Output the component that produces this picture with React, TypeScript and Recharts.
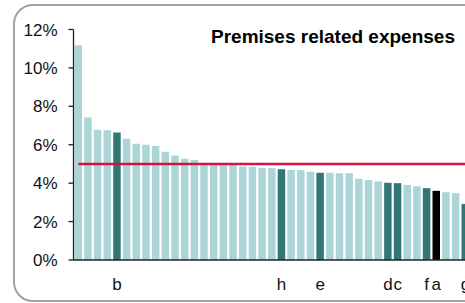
import { ComposedChart, Bar, Line, XAxis, YAxis, Cell } from "recharts"

// x-axis labels (only the highlighted institutions are named)
const labels = [
  "", "", "", "", "b", "", "", "", "", "",
  "", "", "", "", "", "", "", "", "", "",
  "", "h", "", "", "", "e", "", "", "", "",
  "", "", "d", "c", "", "", "f", "a", "", "",
  "g",
]

// premises related expenses, %
const expenses = [
  11.18, 7.42, 6.78, 6.75, 6.64, 6.31, 6.05, 6.0, 5.93, 5.63,
  5.44, 5.27, 5.2, 5.05, 5.02, 5.0, 4.98, 4.87, 4.85, 4.8,
  4.78, 4.73, 4.69, 4.68, 4.59, 4.54, 4.54, 4.52, 4.52, 4.23,
  4.16, 4.09, 4.02, 4.0, 3.91, 3.84, 3.74, 3.6, 3.53, 3.48,
  2.92,
]

// average line
const average = 5

const yTicks = [0, 2, 4, 6, 8, 10, 12]

const COLORS = {
  base: "#acd5d8",
  peer: "#2f7876",
  self: "#000000",
  avg: "#d21443",
}

const FONT = '"Liberation Sans", Arial, sans-serif'

const data = expenses.map((v, i) => ({ label: labels[i], value: v, avg: average }))

const barColor = (label: string) => {
  if (label === "a") return COLORS.self
  if (label !== "") return COLORS.peer
  return COLORS.base
}

export default function App() {
  return (
    <div
      style={{
        position: "fixed",
        left: 0,
        top: 0,
        width: 465,
        height: 303,
        overflow: "hidden",
        background: "#fff",
        fontFamily: FONT,
      }}
    >
      {/* rounded frame, runs off the right edge */}
      <div
        style={{
          position: "absolute",
          left: 13,
          top: 4,
          width: 600,
          height: 294,
          border: "2px solid #a2a2a2",
          borderRadius: 20,
        }}
      />
      <div
        style={{
          position: "absolute",
          left: 211,
          top: 27,
          fontSize: 19,
          lineHeight: "19px",
          fontWeight: "bold",
          color: "#000",
          whiteSpace: "nowrap",
        }}
      >
        Premises related expenses
      </div>
      <div style={{ position: "absolute", left: 0, top: 0 }}>
        <ComposedChart
          width={480}
          height={303}
          data={data}
          margin={{ top: 29.5, right: 9.8, left: 0, bottom: 0 }}
          barSize={7.5}
        >
          <XAxis
            dataKey="label"
            interval={0}
            tickLine={false}
            tickSize={0}
            tickMargin={18}
            height={43}
            axisLine={{ stroke: "#222", strokeWidth: 1.3 }}
            tick={{ fill: "#111", fontSize: 17, fontFamily: FONT }}
          />
          <YAxis
            type="number"
            domain={[0, 12]}
            ticks={yTicks}
            width={73.5}
            tickSize={5}
            tickMargin={11}
            tickFormatter={(v: number) => `${v}%`}
            axisLine={{ stroke: "#222", strokeWidth: 1.3 }}
            tickLine={{ stroke: "#222", strokeWidth: 1.3 }}
            tick={{ fill: "#111", fontSize: 17, fontFamily: FONT }}
          />
          <Bar dataKey="value" isAnimationActive={false}>
            {data.map((d, i) => (
              <Cell key={`c-${i}`} fill={barColor(d.label)} />
            ))}
          </Bar>
          <Line
            dataKey="avg"
            stroke={COLORS.avg}
            strokeWidth={2.5}
            dot={false}
            activeDot={false}
            isAnimationActive={false}
          />
        </ComposedChart>
      </div>
    </div>
  )
}
